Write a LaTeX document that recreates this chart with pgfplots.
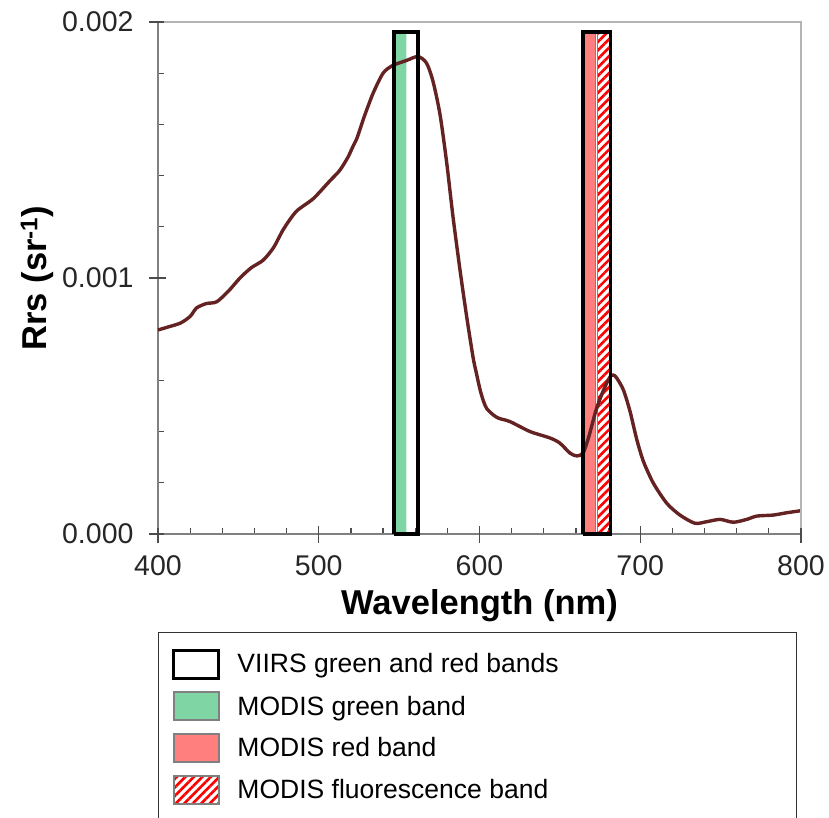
\documentclass[border=0pt]{standalone}
\usepackage{fontspec}
\setmainfont{Liberation Sans}
\usepackage{pgfplots}
\pgfplotsset{compat=1.18}
\usetikzlibrary{patterns.meta}

\definecolor{curve}{HTML}{642222}
\definecolor{mgreen}{HTML}{7FD6A4}
\definecolor{mred}{HTML}{FF7F7F}
\definecolor{axgray}{HTML}{808080}
\definecolor{boxgray}{HTML}{B4B4B4}

\tikzset{
  hatchred/.style={fill=white, pattern={Lines[angle=45, distance=6pt, line width=2.6pt]}, pattern color=red},
}

\begin{document}
\begin{tikzpicture}
\begin{axis}[
    name=ax,
    scale only axis,
    width=643pt, height=512pt,
    xmin=400, xmax=800,
    ymin=0, ymax=0.002,
    axis lines=left,
    axis line style={-, axgray, line width=1.6pt},
    clip=false,
    xtick={400,500,600,700,800},
    ytick={0,0.001,0.002},
    minor x tick num=4,
    minor y tick num=4,
    tick align=center,
    major tick length=16pt,
    minor tick length=6pt,
    tick style={black!70, line width=1.2pt},
    minor x tick style={yshift=3pt},
    minor y tick style={xshift=3pt},
    scaled y ticks=false,
    /pgf/number format/assume math mode=true,
    ticklabel style={font=\fontsize{28.5}{30}\selectfont, text=black!85},
    xticklabel style={yshift=-10pt},
    yticklabel style={/pgf/number format/fixed, /pgf/number format/fixed zerofill,
        /pgf/number format/precision=3, xshift=-13pt},
    xlabel={\bfseries Wavelength (nm)},
    ylabel={\bfseries Rrs (sr\textsuperscript{-1})},
    label style={font=\fontsize{34.5}{36}\selectfont},
    xlabel style={at={(axis description cs:0.5,-0.14)}, anchor=center},
    ylabel style={at={(axis description cs:-0.188,0.5)}, anchor=center},
    legend cell align=left,
    legend style={at={(axis description cs:0,-0.1914)}, anchor=north west,
        draw=black!80, line width=1pt, inner xsep=14pt, inner ysep=16pt,
        row sep=11.8pt, column sep=7pt, font=\fontsize{26.5}{28}\selectfont,
        nodes={inner xsep=10pt}},
]

% MODIS bands
\addplot[forget plot, fill=mgreen, draw=none] coordinates {
  (547,0) (547,0.001962) (554.5,0.001962) (554.5,0)} \closedcycle;
\addplot[forget plot, fill=mred, draw=gray, line width=0.8pt] coordinates {
  (664.5,0) (664.5,0.001962) (672.4,0.001962) (672.4,0)} \closedcycle;
\addplot[forget plot, hatchred, draw=gray, line width=0.8pt] coordinates {
  (673.2,0) (673.2,0.001962) (681,0.001962) (681,0)} \closedcycle;

% Rrs spectrum
\addplot[forget plot, curve, line width=3.4pt, line join=round, smooth, tension=0.45] coordinates {
  (400,0.000797) (407,0.000810) (414,0.000824) (420,0.000850) (424,0.000883)
  (430,0.000900) (436.5,0.000907) (444,0.000950) (451,0.001000) (458,0.001040)
  (465.5,0.001070) (472,0.001120) (478,0.001190) (486,0.001260) (496.6,0.001310)
  (507,0.001380) (513,0.001420) (518,0.001470) (521,0.001510) (524,0.001550)
  (528,0.001625) (533.7,0.001720) (540,0.001800) (546,0.001830) (554.7,0.001850)
  (561.7,0.001865) (567,0.001840) (571,0.001770) (575.4,0.001640) (579.6,0.001450)
  (583.5,0.001240) (587.9,0.001030) (592,0.000850) (596,0.000690) (598,0.000630)
  (600.3,0.000565) (602.4,0.000520) (604.5,0.000490) (608.6,0.000465) (612,0.000452)
  (619,0.000439) (631.5,0.000400) (643.9,0.000375) (650,0.000355) (656.3,0.000316)
  (660.5,0.000305) (664.4,0.000316) (668,0.000380) (672.5,0.000484) (677,0.000560)
  (681.2,0.000614) (683.2,0.000621) (685.3,0.000610) (689.5,0.000563) (693.6,0.000480)
  (697.8,0.000370) (702,0.000283) (708.2,0.000198) (716.5,0.000120) (724.7,0.000074)
  (734,0.000042) (741.3,0.000048) (749.6,0.000057) (757.9,0.000046) (766.2,0.000057)
  (772.5,0.000070) (782.8,0.000074) (791.1,0.000083) (800,0.000091)
};

% VIIRS bands
\addplot[forget plot, draw=black, line width=3.6pt] coordinates {
  (546.8,0) (546.8,0.001962) (561.7,0.001962) (561.7,0) (546.8,0)};
\addplot[forget plot, draw=black, line width=3.6pt] coordinates {
  (664.2,0) (664.2,0.001962) (681.6,0.001962) (681.6,0) (664.2,0)};

% frame on top and right
\draw[boxgray, line width=1.6pt] (rel axis cs:0,1) -- (rel axis cs:1,1) -- (rel axis cs:1,0);

% major tick marks crossing the axis lines
\pgfplotsinvokeforeach{400,500,600,700,800}{
  \draw[black!70, line width=1.4pt] ([yshift=-9pt]axis cs:#1,0) -- ([yshift=6pt]axis cs:#1,0);}
\pgfplotsinvokeforeach{0,0.001,0.002}{
  \draw[black!70, line width=1.4pt] ([xshift=-9pt]axis cs:400,#1) -- ([xshift=6pt]axis cs:400,#1);}

\addlegendimage{legend image code/.code={\draw[black, line width=3pt, fill=white] (0pt,-14pt) rectangle (45pt,14pt);}}
\addlegendentry{\makebox[535pt][l]{VIIRS green and red bands}}
\addlegendimage{legend image code/.code={\draw[gray, line width=2pt, fill=mgreen] (0pt,-14pt) rectangle (45pt,14pt);}}
\addlegendentry{MODIS green band}
\addlegendimage{legend image code/.code={\draw[gray, line width=2pt, fill=mred] (0pt,-14pt) rectangle (45pt,14pt);}}
\addlegendentry{MODIS red band}
\addlegendimage{legend image code/.code={\draw[gray, line width=2pt, hatchred] (0pt,-14pt) rectangle (45pt,14pt);}}
\addlegendentry{MODIS fluorescence band}
\end{axis}
\pgfresetboundingbox
\path ([shift={(-158pt,-284pt)}]ax.south west) rectangle ([shift={(671pt,534pt)}]ax.south west);
\end{tikzpicture}
\end{document}
